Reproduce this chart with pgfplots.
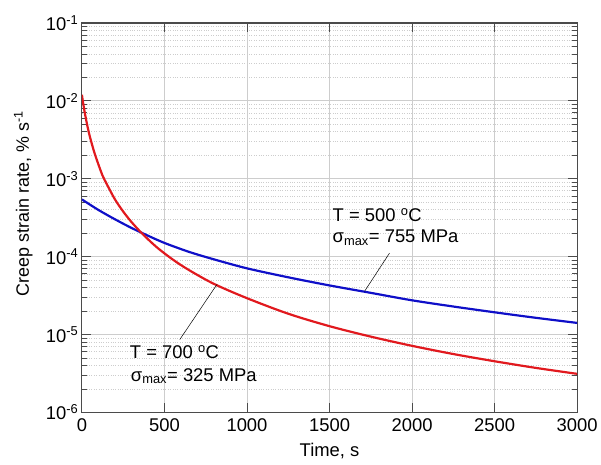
\documentclass[border=0pt]{standalone}
\usepackage{pgfplots}
\pgfplotsset{compat=1.18}
\usepackage{fontspec}
\setmainfont{Liberation Sans}
\definecolor{cred}{RGB}{225,25,30}
\definecolor{cblue}{RGB}{15,15,200}
\definecolor{axgray}{RGB}{75,75,75}
\definecolor{gridgray}{RGB}{205,205,205}
\begin{document}
\begin{tikzpicture}[font=\fontsize{18.5}{22}\selectfont]
\begin{axis}[
  scale only axis,
  width=496bp, height=390bp,
  ymode=log,
  xmin=0, xmax=3000, ymin=1e-6, ymax=1e-1,
  xtick={0,500,1000,1500,2000,2500,3000},
  ytick={1e-6,1e-5,1e-4,1e-3,1e-2,1e-1},
  yticklabels={10\textsuperscript{-6},10\textsuperscript{-5},10\textsuperscript{-4},10\textsuperscript{-3},10\textsuperscript{-2},10\textsuperscript{-1}},
  /pgf/number format/assume math mode=true,
  /pgf/number format/1000 sep={},
  xticklabel style={yshift=-3bp},
  tick align=inside,
  major tick length=9bp,
  minor tick length=5bp,
  axis line style={axgray, line width=1.2pt},
  every tick/.style={axgray, line width=0.9pt},
  ymajorgrids, xmajorgrids, yminorgrids,
  major grid style={gridgray, line width=0.8pt},
  minor grid style={gridgray, dotted, line width=0.8pt},
  xlabel={Time, s},
  ylabel={Creep strain rate, \% s\textsuperscript{-1}},
  xlabel style={at={(axis description cs:0.5,0)}, anchor=north, yshift=-31bp, inner sep=0pt},
  ylabel style={at={(axis description cs:-0.099,0.536)}, anchor=south, inner sep=0pt, font=\fontsize{18}{21}\selectfont},
  clip=true,
]
\addplot[cblue, line width=2.2pt, smooth] coordinates {
(0,5.43e-4) (100,3.98e-4) (200,3.02e-4) (300,2.34e-4) (400,1.86e-4) (500,1.50e-4)
(650,1.15e-4) (800,9.23e-5) (1000,7.08e-5) (1250,5.43e-5) (1500,4.27e-5)
(1750,3.43e-5) (2000,2.75e-5) (2250,2.29e-5) (2500,1.93e-5) (2750,1.64e-5)
(3000,1.41e-5)};
\addplot[cred, line width=2.2pt, smooth] coordinates {
(0,1.2e-2) (10,8.7e-3) (20,6.6e-3) (35,4.58e-3) (50,3.37e-3) (75,2.19e-3)
(100,1.53e-3) (125,1.1e-3) (150,8.6e-4) (200,5.45e-4) (250,3.8e-4) (300,2.79e-4)
(363,2.0e-4) (450,1.34e-4) (550,9.2e-5) (650,6.7e-5) (800,4.47e-5) (1000,2.93e-5)
(1250,1.85e-5) (1500,1.28e-5) (1750,9.4e-6) (2000,7.16e-6) (2250,5.62e-6)
(2500,4.54e-6) (2750,3.73e-6) (3000,3.13e-6)};
\addplot[black, line width=0.5pt] coordinates {(593,8.63e-6) (818,4.4e-5)};
\addplot[black, line width=0.5pt] coordinates {(1863,1.11e-4) (1712,3.59e-5)};
\node[anchor=base west, inner sep=0pt] at (axis cs:290,4.88e-6) {T = 700 \textsuperscript{o}C};
\node[anchor=base west, inner sep=0pt] at (axis cs:296,2.52e-6) {σ\textsubscript{max}= 325 MPa};
\node[anchor=base west, inner sep=0pt] at (axis cs:1518,2.81e-4) {T = 500 \textsuperscript{o}C};
\node[anchor=base west, inner sep=0pt] at (axis cs:1518,1.51e-4) {σ\textsubscript{max}= 755 MPa};
\end{axis}
\path (current axis.south west) ++(-82bp,-52bp) rectangle ++(601bp,465bp);
\end{tikzpicture}
\end{document}
